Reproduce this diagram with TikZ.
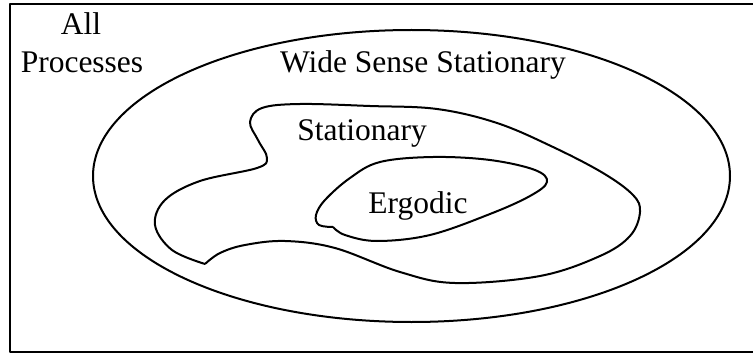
\documentclass[tikz,border=0pt]{standalone}
\usepackage{fontspec}
\setmainfont{Liberation Serif}
\begin{document}
\begin{tikzpicture}[x=1pt,y=-1pt,
  setline/.style={line width=2pt, line join=round},
  lbl/.style={anchor=base, inner sep=0pt, font=\fontsize{31.5}{36}\selectfont}]
\useasboundingbox (0,0) rectangle (753,353);
\clip (0,0) rectangle (753,353);
% all processes frame
\draw[setline] (10,4.5) rectangle (780,351.5);
% wide sense stationary
\draw[setline] (411.5,176) ellipse [x radius=318.5, y radius=146];
% stationary
\draw[setline] plot[smooth, tension=0.6] coordinates {
  (205,264) (172,250) (155,225) (165,200) (200,181) (257,168) (267,158)
  (258,140) (250,122) (262,108) (300,104) (370,106) (437,109) (497,123)
  (553,147) (603,173) (633,195) (640,212) (630,236) (600,256) (540,276)
  (455,283) (400,272) (335,248) (285,241) (245,245) (220,253) (205,264)};
% ergodic
\draw[setline] plot[smooth, tension=0.6] coordinates {
  (333,227) (345,235) (377,241) (430,235) (490,214) (530,196) (547,182)
  (535,170) (490,160) (433,157) (380,162) (350,178) (325,200) (316,215)
  (319,225) (333,227)};
\node[lbl] (all) at (81,35) {All};
\node[lbl] (proc) at (82,73) {Processes};
\node[lbl] (wss) at (423,73) {Wide Sense Stationary};
\node[lbl] (stat) at (362,140) {Stationary};
\node[lbl] (erg) at (418,213) {Ergodic};
\end{tikzpicture}
\end{document}
